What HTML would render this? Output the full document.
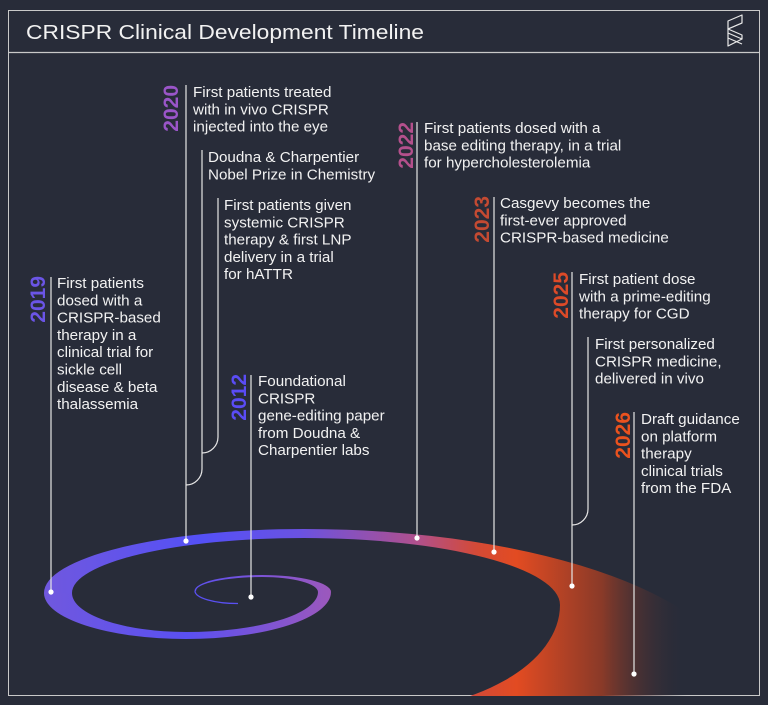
<!DOCTYPE html>
<html><head><meta charset="utf-8"><style>
html,body{margin:0;padding:0;background:#282c39;width:768px;height:705px;overflow:hidden;}
svg{display:block;}
text{font-family:"Liberation Sans",sans-serif;}
.t{fill:#f2f2f2;font-size:15.2px;}
.y{font-size:21px;font-weight:bold;}
.l{stroke:#e6e6e6;stroke-width:1.2;fill:none;}
</style></head><body>
<svg width="768" height="705" viewBox="0 0 768 705" xmlns="http://www.w3.org/2000/svg">
<defs>
<clipPath id="fr"><rect x="8.5" y="53" width="751" height="643"/></clipPath>
<linearGradient id="ga" gradientUnits="userSpaceOnUse" x1="44" y1="0" x2="331" y2="0">
<stop offset="0" stop-color="#7058de"/><stop offset="0.5" stop-color="#5a50f2"/><stop offset="1" stop-color="#9c58bc"/>
</linearGradient>
<linearGradient id="gb" gradientUnits="userSpaceOnUse" x1="44" y1="0" x2="700" y2="0">
<stop offset="0" stop-color="#7058de"/><stop offset="0.24" stop-color="#5450f6"/><stop offset="0.39" stop-color="#6a52e2"/>
<stop offset="0.57" stop-color="#b0508c"/><stop offset="0.66" stop-color="#d44a36"/><stop offset="0.72" stop-color="#e24b22"/>
<stop offset="0.85" stop-color="#8a3a28"/><stop offset="0.98" stop-color="#282c39" stop-opacity="0"/>
</linearGradient>
</defs>
<rect width="768" height="705" fill="#282c39"/>
<rect x="8.5" y="10.5" width="751" height="685" fill="none" stroke="#c9c9c9" stroke-width="1"/>
<line x1="8.5" y1="52.5" x2="759.5" y2="52.5" stroke="#c9c9c9" stroke-width="1.2"/>
<text x="26" y="39" fill="#f2f2f2" font-size="20.5" textLength="398" lengthAdjust="spacingAndGlyphs">CRISPR Clinical Development Timeline</text>
<g fill="none" stroke="#e8e8e8" stroke-width="1.2" stroke-linejoin="round">
<path d="M728 21 L742 15 L742 23 L728 29 Z"/>
<path d="M728 29 L742 35 L742 39 L728 33 Z"/>
<path d="M742 23 L728 29"/>
<path d="M728 33 L728 46 L742 39"/>
<path d="M728 38 L742 44"/>
</g>
<g clip-path="url(#fr)">
<path fill="none" stroke="#5a50f2" stroke-width="1.3" d="M238 603.5 A43 12.5 0 0 1 195 591"/>
<path fill="url(#ga)" d="M194.5 591 A67.5 16 0 0 1 262 575 A69 17 0 0 1 331 592 A145 47 0 0 1 186 639 A142 46 0 0 1 44 593 L72 593 A114 39 0 0 0 186 632 A132 40 0 0 0 318 592 A56 15 0 0 0 262 577 A66 14 0 0 0 196 591 Z"/>
<path fill="url(#gb)" d="M44 593 A260 64 0 0 1 304 529 A436 161 0 0 1 740 690 A340 210 0 0 1 400 900 L370 712 A190 107 0 0 0 560 605 A256 67 0 0 0 304 538 A232 55 0 0 0 72 593 Z"/>
</g>
<g class="l">
<path d="M51 277 V592"/>
<path d="M186 85 V541"/>
<path d="M202 150 V469 A16 16 0 0 1 186 485"/>
<path d="M218 198 V437 A16 16 0 0 1 202 453"/>
<path d="M251 375 V597"/>
<path d="M417 122 V538"/>
<path d="M494 197 V552"/>
<path d="M572 272 V586"/>
<path d="M588 337 V509 A16 16 0 0 1 572 525"/>
<path d="M634 412 V674"/>
</g>
<g fill="#ffffff">
<circle cx="51" cy="592" r="2.6"/><circle cx="186" cy="541" r="2.6"/><circle cx="251" cy="597" r="2.6"/>
<circle cx="417" cy="538" r="2.6"/><circle cx="494" cy="552" r="2.6"/><circle cx="572" cy="586" r="2.6"/><circle cx="634" cy="674" r="2.6"/>
</g>
<g class="y" text-anchor="end">
<text transform="translate(45 276) rotate(-90)" fill="#6b55e6">2019</text>
<text transform="translate(178 85) rotate(-90)" fill="#9a55c8">2020</text>
<text transform="translate(246 374) rotate(-90)" fill="#5a4cf5">2012</text>
<text transform="translate(413 122) rotate(-90)" fill="#b4508c">2022</text>
<text transform="translate(489 196) rotate(-90)" fill="#c44a32">2023</text>
<text transform="translate(568 272) rotate(-90)" fill="#dc4a28">2025</text>
<text transform="translate(630 412) rotate(-90)" fill="#ea521e">2026</text>
</g>
<g class="t">
<text x="57" y="288"><tspan x="57">First patients</tspan><tspan x="57" dy="17.3">dosed with a</tspan><tspan x="57" dy="17.3">CRISPR-based</tspan><tspan x="57" dy="17.3">therapy in a</tspan><tspan x="57" dy="17.3">clinical trial for</tspan><tspan x="57" dy="17.3">sickle cell</tspan><tspan x="57" dy="17.3">disease &amp; beta</tspan><tspan x="57" dy="17.3">thalassemia</tspan></text>
<text x="193" y="97"><tspan x="193">First patients treated</tspan><tspan x="193" dy="17.3">with in vivo CRISPR</tspan><tspan x="193" dy="17.3">injected into the eye</tspan></text>
<text x="208" y="162"><tspan x="208">Doudna &amp; Charpentier</tspan><tspan x="208" dy="17.3">Nobel Prize in Chemistry</tspan></text>
<text x="224" y="210"><tspan x="224">First patients given</tspan><tspan x="224" dy="17.3">systemic CRISPR</tspan><tspan x="224" dy="17.3">therapy &amp; first LNP</tspan><tspan x="224" dy="17.3">delivery in a trial</tspan><tspan x="224" dy="17.3">for hATTR</tspan></text>
<text x="258" y="386"><tspan x="258">Foundational</tspan><tspan x="258" dy="17.3">CRISPR</tspan><tspan x="258" dy="17.3">gene-editing paper</tspan><tspan x="258" dy="17.3">from Doudna &amp;</tspan><tspan x="258" dy="17.3">Charpentier labs</tspan></text>
<text x="424" y="133"><tspan x="424">First patients dosed with a</tspan><tspan x="424" dy="17.3">base editing therapy, in a trial</tspan><tspan x="424" dy="17.3">for hypercholesterolemia</tspan></text>
<text x="500" y="208"><tspan x="500">Casgevy becomes the</tspan><tspan x="500" dy="17.3">first-ever approved</tspan><tspan x="500" dy="17.3">CRISPR-based medicine</tspan></text>
<text x="579" y="284"><tspan x="579">First patient dose</tspan><tspan x="579" dy="17.3">with a prime-editing</tspan><tspan x="579" dy="17.3">therapy for CGD</tspan></text>
<text x="595" y="349"><tspan x="595">First personalized</tspan><tspan x="595" dy="17.3">CRISPR medicine,</tspan><tspan x="595" dy="17.3">delivered in vivo</tspan></text>
<text x="641" y="424"><tspan x="641">Draft guidance</tspan><tspan x="641" dy="17.3">on platform</tspan><tspan x="641" dy="17.3">therapy</tspan><tspan x="641" dy="17.3">clinical trials</tspan><tspan x="641" dy="17.3">from the FDA</tspan></text>
</g>
</svg>
</body></html>
